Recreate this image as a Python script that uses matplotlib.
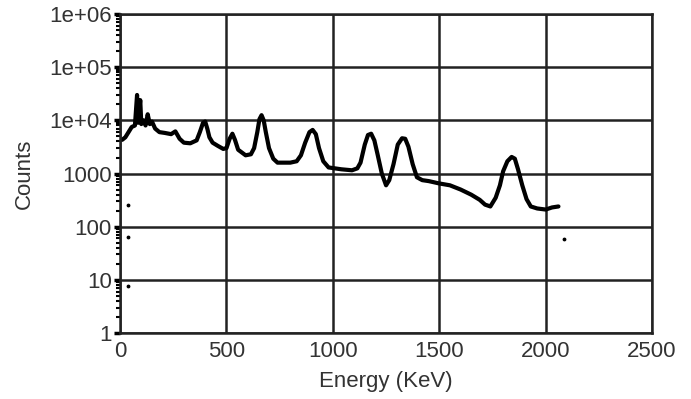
import numpy as np
import matplotlib.pyplot as plt
from matplotlib.ticker import LogLocator, NullFormatter

plt.rcParams['font.family'] = ['Liberation Sans', 'DejaVu Sans']

# spectrum
energy = [10, 25, 40, 55, 70, 80, 85, 95, 100, 110, 120, 130, 140, 150, 165, 185,
          210, 240, 260, 280, 300, 330, 360, 375, 390, 400, 410, 420, 435, 460,
          485, 500, 515, 528, 540, 555, 590, 615, 630, 645, 655, 665, 675, 685,
          700, 720, 740, 800, 830, 850, 870, 890, 905, 920, 935, 955, 980, 1040,
          1090, 1115, 1130, 1150, 1165, 1180, 1195, 1210, 1230, 1250, 1265, 1285,
          1305, 1325, 1340, 1355, 1375, 1395, 1420, 1450, 1500, 1550, 1600, 1650,
          1690, 1715, 1740, 1765, 1785, 1800, 1820, 1840, 1855, 1870, 1890, 1910,
          1930, 1960, 2000, 2030, 2060]
counts = [4300, 4800, 6000, 7500, 8000, 30000, 9000, 24000, 8500, 10000, 8000,
          13000, 8500, 9500, 7000, 6000, 5800, 5500, 6200, 4500, 3800, 3700, 4200,
          6000, 9000, 9500, 7000, 4800, 3800, 3300, 2900, 3000, 4500, 5600, 4300,
          2800, 2200, 2300, 3000, 6000, 10500, 12500, 10000, 6000, 3000, 1900,
          1600, 1600, 1700, 2200, 3800, 6000, 6600, 5500, 3000, 1700, 1300, 1200,
          1150, 1250, 1600, 3500, 5300, 5600, 4200, 2300, 1000, 600, 750, 1500,
          3500, 4600, 4500, 3200, 1500, 850, 750, 720, 650, 600, 500, 400, 320,
          260, 240, 350, 600, 1100, 1700, 2050, 1900, 1200, 600, 330, 240, 220,
          210, 230, 240]

# stray single points
dot_e = [38, 38, 38, 2085]
dot_c = [255, 63, 7.5, 58]

fig = plt.figure(figsize=(6.91, 3.99), dpi=100)
ax = fig.add_axes([0.1737, 0.1654, 0.77, 0.7995])

ax.plot(energy, counts, 'k-', lw=3, solid_joinstyle='round', solid_capstyle='round')
ax.plot(dot_e, dot_c, 'k.', ms=3.5)

ax.set_yscale('log')
ax.set_xlim(0, 2500)
ax.set_ylim(1, 1e6)
ax.set_xticks([0, 500, 1000, 1500, 2000, 2500])
ax.set_yticks([1, 10, 100, 1000, 1e4, 1e5, 1e6])
ax.set_yticklabels(['1', '10', '100', '1000', '1e+04', '1e+05', '1e+06'])
ax.yaxis.set_minor_locator(LogLocator(base=10, subs=np.arange(2, 10)))
ax.yaxis.set_minor_formatter(NullFormatter())
ax.grid(True, which='major', color='#222222', lw=1.8)

for s in ax.spines.values():
    s.set_linewidth(1.8)
    s.set_color('#222222')
ax.tick_params(axis='both', which='major', length=4, width=2.5, labelsize=16,
               labelcolor='#333333', pad=2)
ax.tick_params(axis='y', which='minor', length=3, width=1.5)
ax.tick_params(axis='x', length=0, pad=6)

ax.set_xlabel('Energy (KeV)', fontsize=16, color='#333333', labelpad=6)
ax.set_ylabel('Counts', fontsize=16, color='#333333', labelpad=10)

plt.savefig('out.png', dpi=100)
